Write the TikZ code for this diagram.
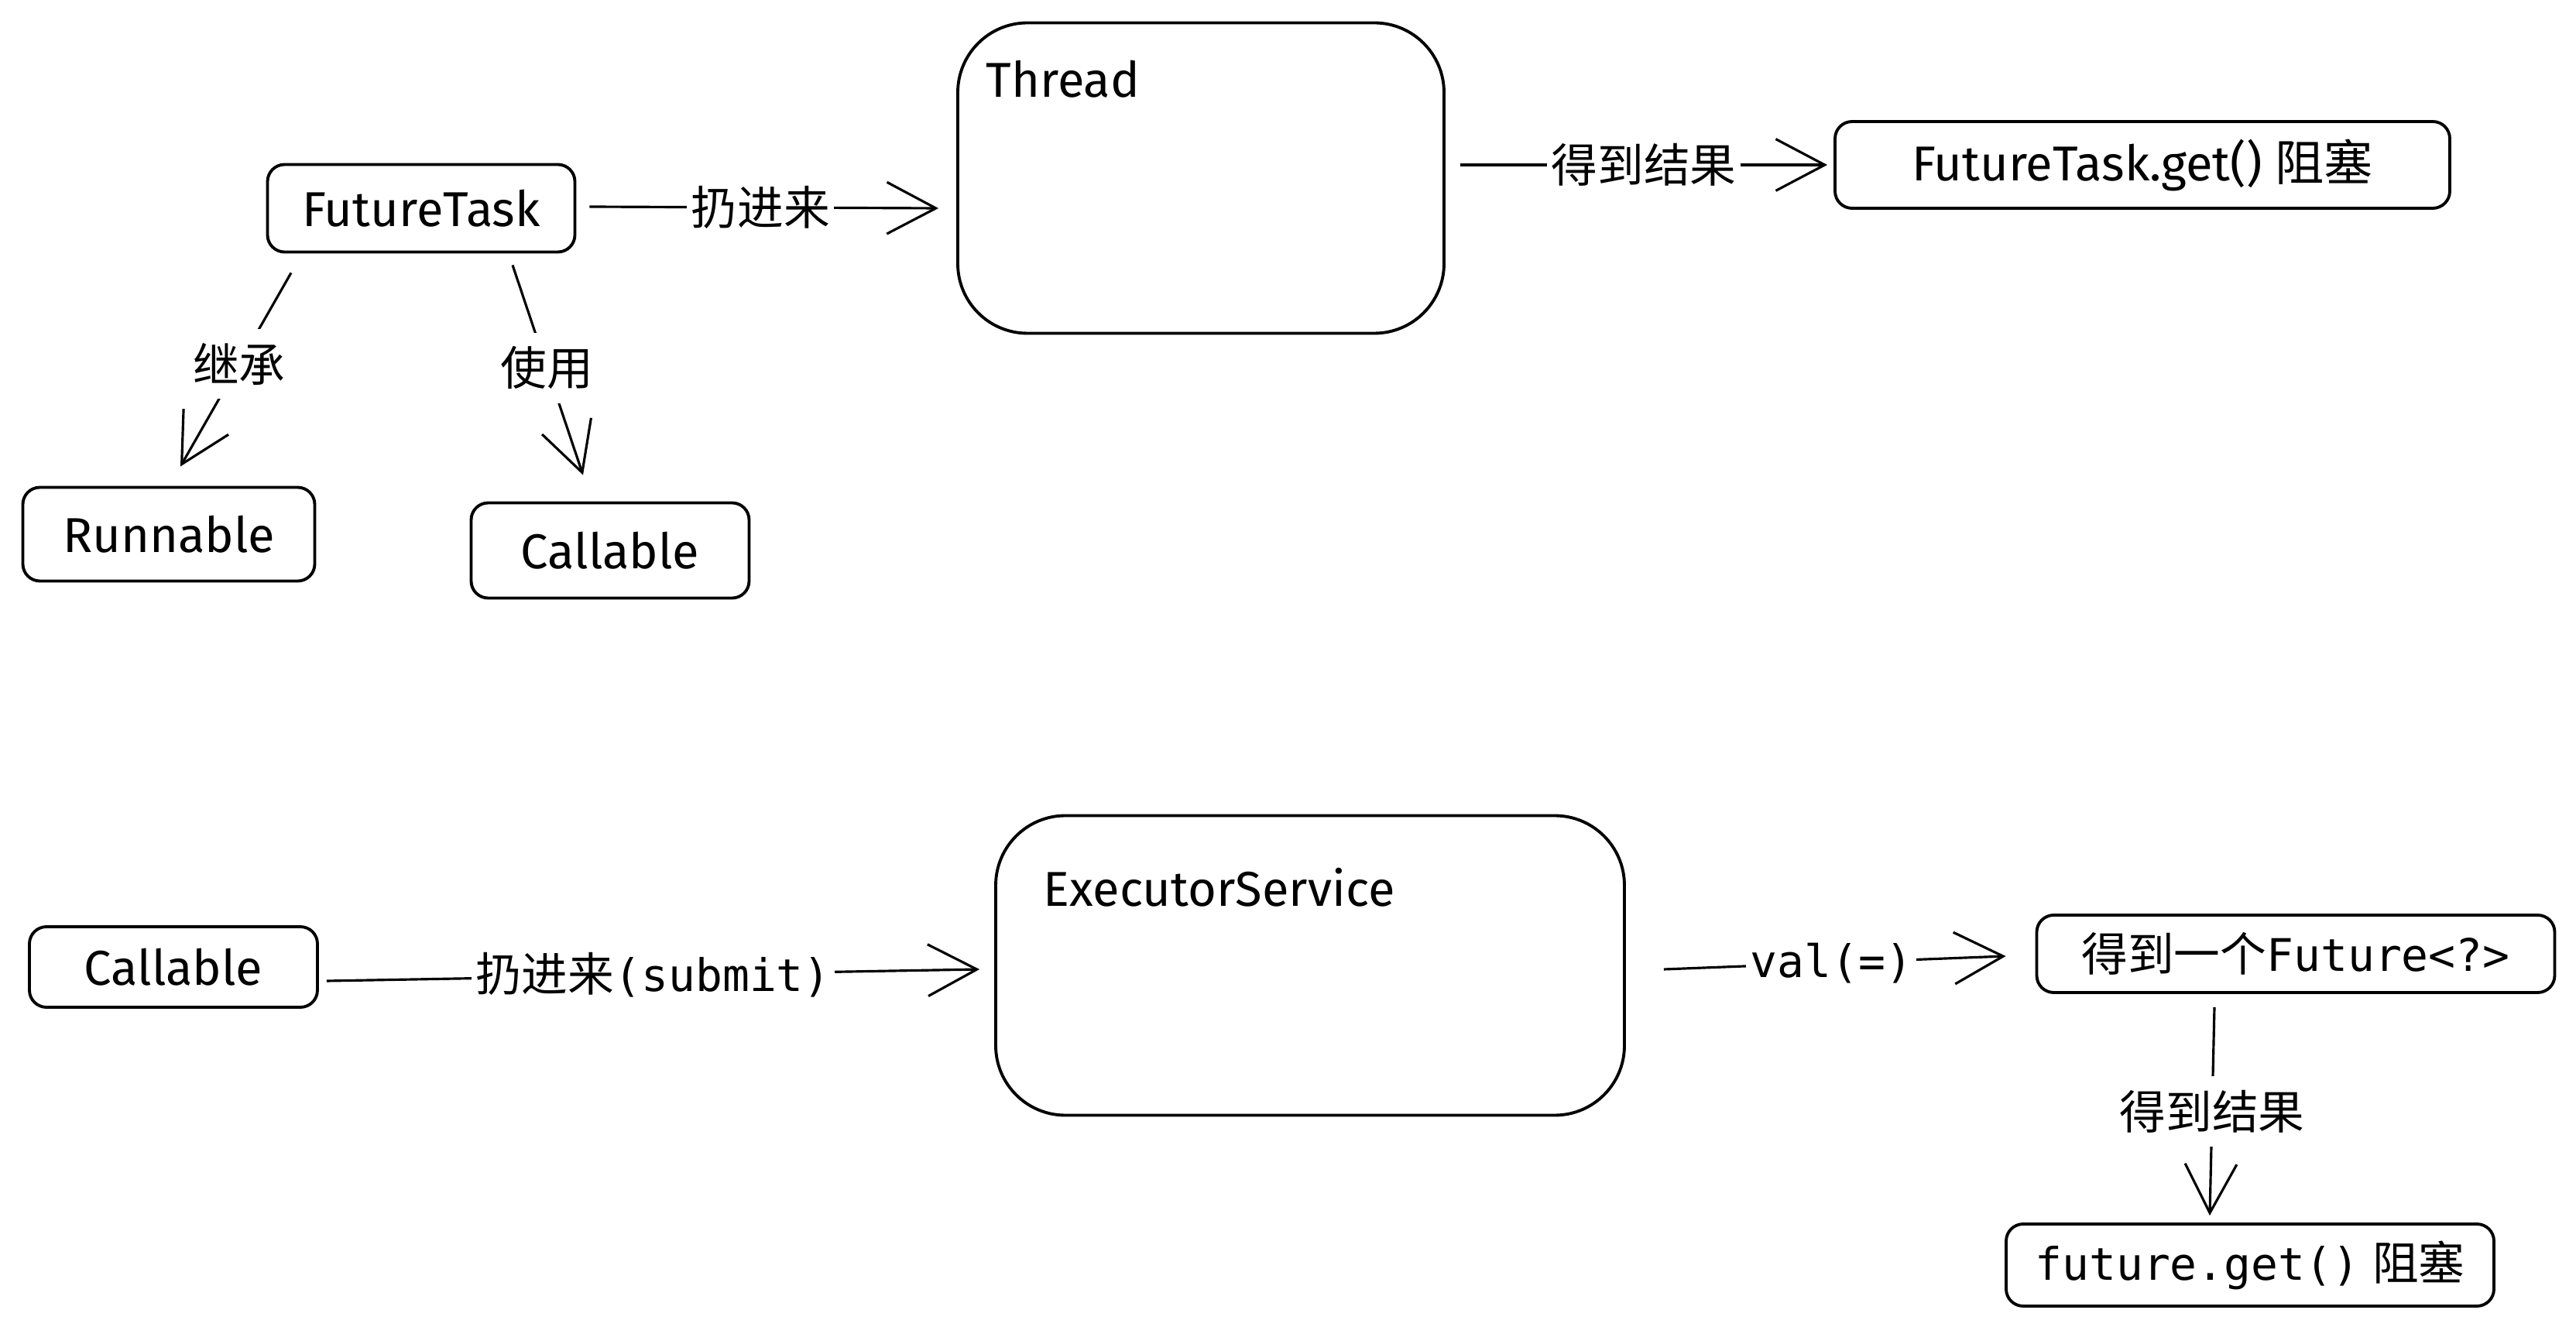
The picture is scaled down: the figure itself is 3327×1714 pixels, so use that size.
\documentclass[tikz,border=0pt]{standalone}
\usepackage{fontspec}
\setmainfont{Fira Sans}
\newfontfamily\cjk{Noto Sans CJK SC}
\newfontfamily\mono{DejaVu Sans Mono}
\usetikzlibrary{arrows.meta}
\tikzset{
  box/.style={draw=black, line width=1.1pt, rounded corners=2.2mm, inner sep=0pt,
    font=\fontsize{18}{22}\selectfont},
  bigbox/.style={draw=black, line width=1.1pt, rounded corners=9mm, inner sep=0pt},
  hw/.style={font=\fontsize{18}{22}\selectfont, inner sep=0pt},
  arr/.style={draw=black, line width=0.9pt,
    -{Straight Barb[length=18pt,width=19pt,line width=0.9pt]}},
  lbl/.style={fill=white, inner xsep=1.5pt, inner ysep=5pt,
    font=\fontsize{17}{20}\selectfont\cjk},
}
\begin{document}
\begin{tikzpicture}[x=0.1mm,y=-0.1mm]
\useasboundingbox (0,0) rectangle (3327,1714);

% top row
\node[box, minimum width=3.97cm, minimum height=1.13cm] (ft) at (544,269) {FutureTask};
\node[bigbox, minimum width=6.28cm, minimum height=4.01cm] (thread) at (1551,230) {};
\node[hw, anchor=west] (threadlbl) at (1273,102) {Thread};
\node[box, minimum width=7.94cm, minimum height=1.12cm] (get) at (2767,213)
  {FutureTask.get() {\cjk 阻塞}};
\node[box, minimum width=3.77cm, minimum height=1.21cm] (run) at (218,690) {Runnable};
\node[box, minimum width=3.59cm, minimum height=1.23cm] (cal) at (788,711) {Callable};

% bottom row
\node[box, minimum width=3.72cm, minimum height=1.04cm] (cal2) at (224,1249) {Callable};
\node[bigbox, minimum width=8.12cm, minimum height=3.87cm] (exec) at (1692,1247) {};
\node[hw, anchor=west] (execlbl) at (1347,1146) {ExecutorService};
\node[box, minimum width=6.69cm, minimum height=1.00cm] (fut) at (2965,1232)
  {\fontsize{17}{20}\selectfont{\cjk 得到一个}{\mono\fontsize{16.5}{20}\selectfont Future<?>}};
\node[box, minimum width=6.30cm, minimum height=1.06cm] (fget) at (2906,1634)
  {{\mono\fontsize{16.5}{20}\selectfont future.get()} {\cjk\fontsize{17}{20}\selectfont 阻塞}};

% connectors
\draw[arr] ([shift={(17,-2)}]ft.east) -- ([shift={(-23,0)}]thread.west |- ft.east)
  node[lbl, pos=0.49] (l1) {扔进来};
\draw[arr] ([shift={(19,0)}]thread.east |- get.west) -- ([shift={(-8,0)}]get.west)
  node[lbl, pos=0.5] (l2) {得到结果};
\draw[arr] ([shift={(-168,25)}]ft.south) -- ([shift={(15,-25)}]run.north)
  node[lbl, pos=0.47] (l3) {继承};
\draw[arr] ([shift={(118,15)}]ft.south) -- ([shift={(-35,-34)}]cal.north)
  node[lbl, pos=0.49] (l4) {使用};
\draw[arr] ([shift={(10,18)}]cal2.east) -- ([shift={(-19,5)}]exec.west)
  node[lbl, pos=0.5] (l5) {扔进来{\mono\fontsize{16.5}{20}\selectfont (submit)}};
\draw[arr] ([shift={(49,5)}]exec.east) -- ([shift={(-38,3)}]fut.west)
  node[lbl, pos=0.49] (l6) {\mono\fontsize{16.5}{20}\selectfont val(=)};
\draw[arr] ([shift={(-105,17)}]fut.south) -- ([shift={(-52,-9)}]fget.north)
  node[lbl, pos=0.5] (l7) {得到结果};
\end{tikzpicture}
\end{document}
